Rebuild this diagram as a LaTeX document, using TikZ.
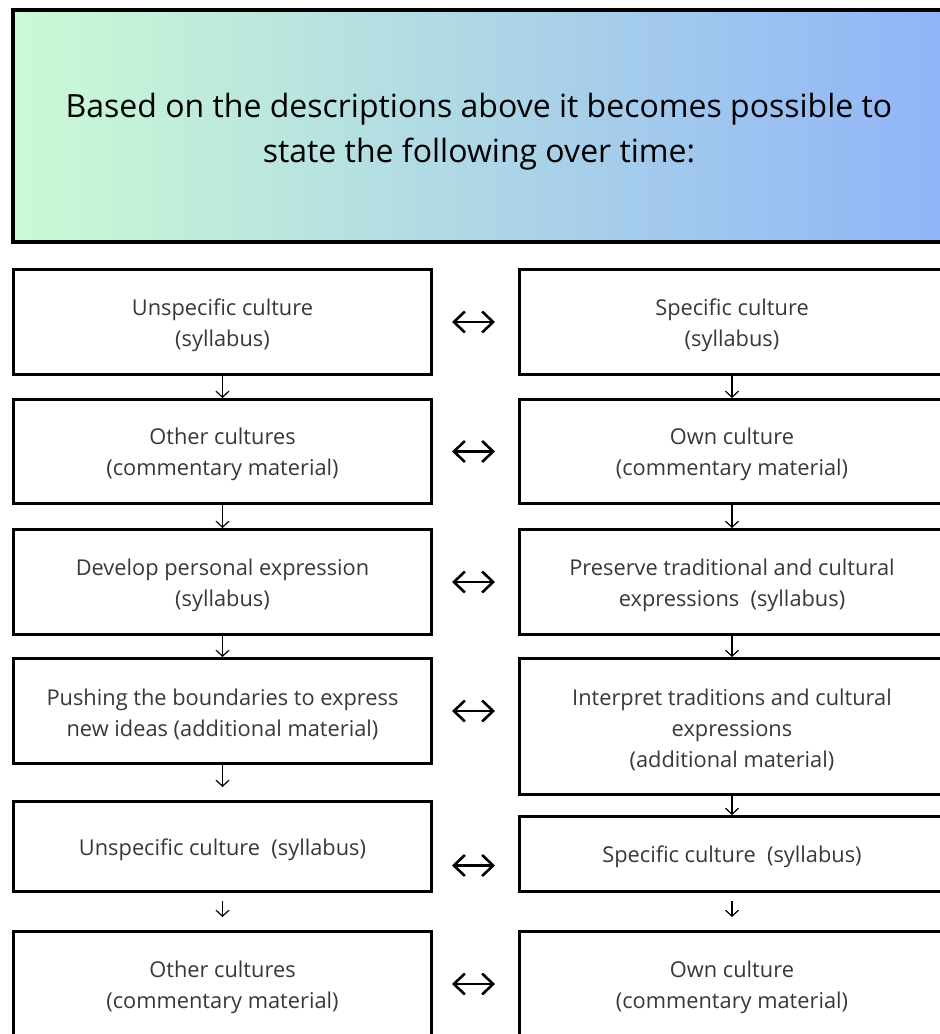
\documentclass[tikz,border=0pt]{standalone}
\usepackage{fontspec}
\setmainfont{Open Sans}
\usetikzlibrary{arrows.meta}
\definecolor{headleft}{RGB}{203,250,212}
\definecolor{headright}{RGB}{144,180,248}
\newcommand{\lift}{\rule{0pt}{22.5pt}}

\begin{document}
\begin{tikzpicture}[x=1pt, y=-1pt,
  box/.style={draw, line width=3pt, align=center, inner sep=0pt, text=black!78,
    font=\fontsize{21.8}{31}\selectfont},
  lbox/.style={box, minimum width=418pt},
  rbox/.style={box, minimum width=425pt},
  down/.style={line width=1.2pt, -{Straight Barb[length=6pt, width=13pt]}},
  both/.style={line width=2.6pt, {Straight Barb[length=11pt, width=21pt]}-{Straight Barb[length=11pt, width=21pt]},
    shorten <=19pt, shorten >=23pt}]

  \useasboundingbox (0,0) rectangle (940,1034);
  \fill[white] (0,0) rectangle (940,1034);
  \clip (0,0) rectangle (940,1034);

  \node[draw, line width=4pt, left color=headleft, right color=headright, minimum width=932pt,
    minimum height=232pt, align=center, font=\fontsize{32}{45}\selectfont] (head) at (479,126)
    {\rule{0pt}{35pt}Based on the descriptions above it becomes possible to\\state the following over time:};

  %% left column
  \node[lbox, minimum height=105pt] (l1) at (222.5,322) {\lift Unspecific culture\\(syllabus)};
  \node[lbox, minimum height=104pt] (l2) at (222.5,451.5) {\lift Other cultures\\(commentary material)};
  \node[lbox, minimum height=105pt] (l3) at (222.5,582) {\lift Develop personal expression\\(syllabus)};
  \node[lbox, minimum height=105pt] (l4) at (222.5,711) {\lift Pushing the boundaries to express\\new ideas (additional material)};
  \node[lbox, minimum height=90pt] (l5) at (222.5,846.5) {\lift Unspecific culture~ (syllabus)};
  \node[lbox, minimum height=105pt] (l6) at (222.5,984) {\lift Other cultures\\(commentary material)};

  %% right column
  \node[rbox, minimum height=105pt] (r1) at (732,322) {\lift Specific culture\\(syllabus)};
  \node[rbox, minimum height=104pt] (r2) at (732,451.5) {\lift Own culture\\(commentary material)};
  \node[rbox, minimum height=105pt] (r3) at (732,582) {\lift Preserve traditional and cultural\\expressions~ (syllabus)};
  \node[rbox, minimum height=136pt] (r4) at (732,726.5) {\lift Interpret traditions and cultural\\expressions\\(additional material)};
  \node[rbox, minimum height=75pt] (r5) at (732,854) {\lift Specific culture~ (syllabus)};
  \node[rbox, minimum height=105pt] (r6) at (732,984) {\lift Own culture\\(commentary material)};

  \foreach \a/\b in {1/2,2/3,3/4}{
    \draw[down] (l\a) -- (l\b);
    \draw[down] (r\a) -- (r\b);
  }
  \draw[down] (r4) -- (r5);
  \draw[down, shorten >=13pt] (l4) -- (l5);
  \draw[down, shorten <=8pt, shorten >=13pt] (l5) -- (l6);
  \draw[down, shorten <=8pt, shorten >=13pt] (r5) -- (r6);

  \foreach \i in {1,2,3,6}
    \draw[both] (l\i) -- (r\i);
  \draw[both] (l4.east) -- (l4.east -| r4.west);
  \draw[both] ([yshift=-19pt]l5.east) -- ([yshift=-19pt]l5.east -| r5.west);
\end{tikzpicture}
\end{document}
